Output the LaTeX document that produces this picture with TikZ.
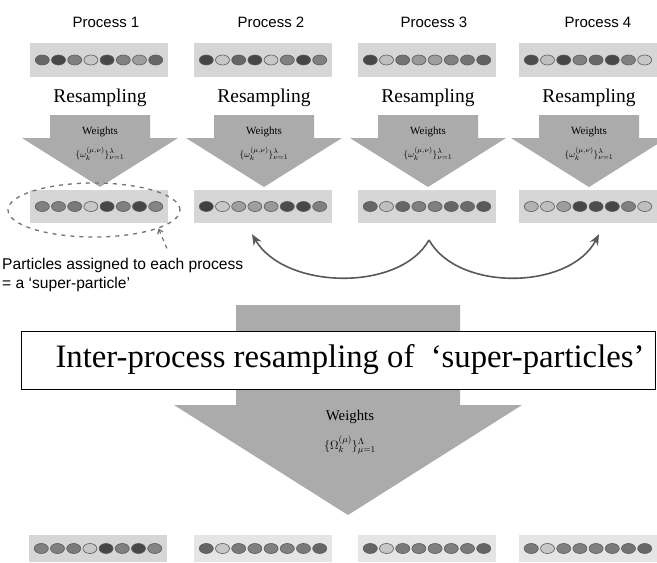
\documentclass[tikz,border=0pt]{standalone}
\usepackage{fontspec}
\setmainfont{Liberation Serif}
\newfontfamily\arialfont{Liberation Sans}
\usetikzlibrary{shapes.geometric,arrows.meta}

\definecolor{boxgray}{gray}{0.84}
\definecolor{palebox}{gray}{0.90}
\definecolor{arrowgray}{gray}{0.67}
\definecolor{curvegray}{gray}{0.35}

\tikzset{
  pbox/.style={rectangle, fill=boxgray, minimum width=138pt, minimum height=34pt, inner sep=0pt},
  pdot/.style={draw=black!65, line width=0.6pt},
  procname/.style={font=\arialfont\fontsize{15}{18}\selectfont},
  captext/.style={font=\arialfont\fontsize{15.6}{18}\selectfont, inner sep=0pt},
  resamp/.style={font=\fontsize{19.5}{22}\selectfont, inner sep=0pt},
  wsmall/.style={font=\fontsize{11}{13}\selectfont, inner sep=0pt},
  msmall/.style={font=\fontsize{9.5}{11}\selectfont, inner sep=0pt},
  wbig/.style={font=\fontsize{14.8}{17}\selectfont, inner sep=0pt},
  mbig/.style={font=\fontsize{13}{15}\selectfont, inner sep=0pt},
  fatarrow/.style={fill=arrowgray},
  swapline/.style={draw=curvegray, line width=1.6pt, -{Stealth[length=11pt,width=9pt]}},
}

% one row of eight particles in a grey box
\newcommand{\prow}[5][]{%
  \node[pbox,#1] (#2) at (#3,#4) {};
  \foreach \s [count=\i] in {#5}
    \draw[pdot, fill=black!\s] ([xshift={(\i-4.5)*16.2pt}]#2.center) ellipse (7pt and 5pt);
}

% fat arrow pointing down: x, shaft top, shaft half width, head base, head half width, tip
\newcommand{\fatdown}[6]{%
  \fill[fatarrow] (#1-#3,#2) -- (#1+#3,#2) -- (#1+#3,#4) -- (#1+#5,#4) -- (#1,#6)
    -- (#1-#5,#4) -- (#1-#3,#4) -- cycle;
}

\begin{document}
\begin{tikzpicture}[x=1pt, y=-1pt]
    \useasboundingbox[fill=white] (0,0) rectangle (657,563);

    % four processes
    \foreach \cx/\lx [count=\k] in {99/106, 263/271, 427/434, 588/598} {
        \node[procname, anchor=base] (proc\k) at (\lx,27) {Process \k};
        \node[resamp, anchor=base] (res\k) at (\cx+1,102) {Resampling};
        \fatdown{\cx+1}{115}{50}{138}{78}{187}
        \node[wsmall, anchor=base] (wt\k) at (\cx+1,134) {Weights};
        \node[msmall, anchor=base] (wm\k) at (\cx+1,157) {$\{\omega_k^{(\mu,\nu)}\}_{\nu=1}^{\lambda}$};
    }

    \prow{top1}{99}{60}{60,72,50,22,72,50,38,60}
    \prow{top2}{263}{60}{72,22,60,72,22,50,72,50}
    \prow{top3}{427}{60}{72,25,55,40,38,50,55,62}
    \prow{top4}{588}{60}{70,25,72,50,60,72,50,22}

    \prow[minimum height=33pt]{mid1}{99}{206.5}{50,50,52,22,72,50,72,48}
    \prow[minimum height=33pt]{mid2}{263}{206.5}{75,22,38,38,40,70,72,50}
    \prow[minimum height=33pt]{mid3}{427}{206.5}{60,25,60,50,50,60,58,65}
    \prow[minimum height=33pt]{mid4}{588}{206.5}{30,25,38,72,70,72,50,25}

    % super-particle
    \node[ellipse, draw=black!55, dash pattern=on 4pt off 5pt, line width=1.3pt,
          minimum width=172pt, minimum height=54pt, inner sep=0pt] (group) at (94,210) {};
    \coordinate (lead) at (168,251);
    \draw[draw=black!55, dash pattern=on 4pt off 4pt, line width=1.2pt,
          {Straight Barb[length=4pt,width=6pt]}-] (group.-16) -- (lead);
    \node[captext, anchor=base west] (cap1) at (2,269) {Particles assigned to each process};
    \node[captext, anchor=base west] (cap2) at (2,288) {= a ‘super-particle’};

    % exchange between processes
    \coordinate (split) at (429,240);
    \draw[swapline] (split) .. controls (400,292) and (285,290) .. ([xshift=-11pt,yshift=-11pt]mid2.south);
    \draw[swapline] (split) .. controls (458,292) and (570,290) .. ([xshift=11pt,yshift=-11pt]mid4.south);

    % inter-process step
    \fatdown{348}{305}{112}{405}{174}{515}
    \node[draw, line width=1pt, fill=white, minimum width=634pt, minimum height=58pt, inner sep=0pt,
          font=\fontsize{32.7}{36}\selectfont] (banner) at (338,360)
          {\hspace*{24pt}Inter-process resampling of\hspace{0.25em} ‘super-particles’};
    \node[wbig, anchor=base] (wtbig) at (350,420) {Weights};
    \node[mbig, anchor=base] (wmbig) at (350,449) {$\{\Omega_k^{(\mu)}\}_{\mu=1}^{\Lambda}$};

    \prow[minimum height=27pt]{bot1}{98}{548.5}{50,50,52,22,72,50,72,48}
    \prow[minimum height=27pt, fill=palebox]{bot2}{263}{548.5}{60,22,52,50,50,50,52,60}
    \prow[minimum height=27pt, fill=palebox]{bot3}{427}{548.5}{60,22,52,50,50,50,52,60}
    \prow[minimum height=27pt, fill=palebox]{bot4}{588}{548.5}{52,22,50,50,50,52,55,60}
\end{tikzpicture}
\end{document}
